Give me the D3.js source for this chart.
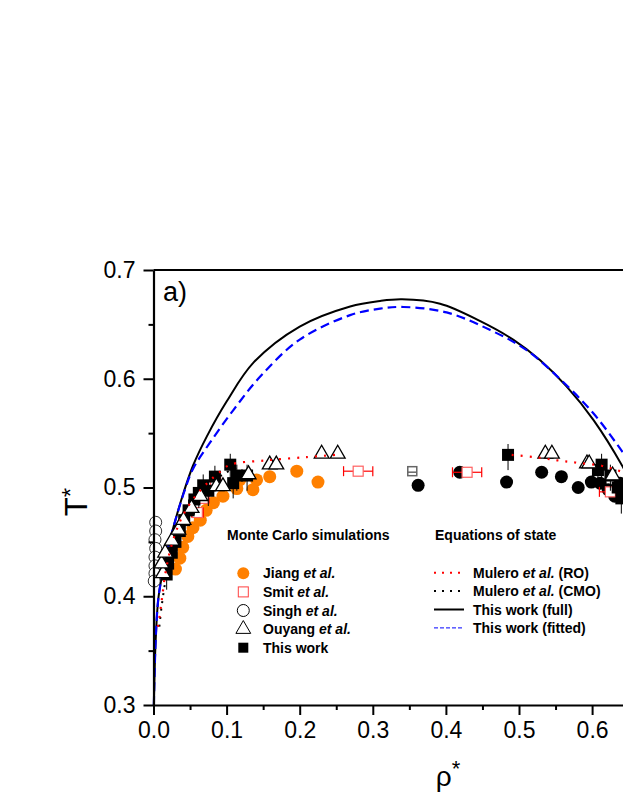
<!DOCTYPE html>
<html>
<head>
<meta charset="utf-8">
<script src="https://cdn.jsdelivr.net/npm/d3@7"></script>
<style>
  html, body { margin: 0; padding: 0; background: #fff; }
  svg { display: block; font-family: "Liberation Sans", Arial, sans-serif; }
</style>
</head>
<body>
<svg id="chart"></svg>
<script>
// axis ticks
const xTicks = [0.0, 0.1, 0.2, 0.3, 0.4, 0.5, 0.6];
const xMinor = [0.05, 0.15, 0.25, 0.35, 0.45, 0.55, 0.65];
const yTicks = [0.3, 0.4, 0.5, 0.6, 0.7];
const yMinor = [0.35, 0.45, 0.55, 0.65];

// equations of state: [rho, T]
const fullCurve = [[0.0005,0.30],[0.003,0.36],[0.007,0.40],[0.016,0.433],[0.025,0.458],[0.041,0.495],
  [0.054,0.520],[0.073,0.547],[0.100,0.579],[0.137,0.615],[0.200,0.648],[0.269,0.6665],[0.310,0.6715],
  [0.340,0.673],[0.392,0.669],[0.447,0.653],[0.492,0.636],[0.529,0.617],[0.565,0.593],[0.602,0.562],
  [0.642,0.519],[0.66,0.495]];
const fittedCurve = [[0.0005,0.30],[0.003,0.36],[0.007,0.40],[0.016,0.433],[0.025,0.458],[0.041,0.494],
  [0.054,0.517],[0.077,0.541],[0.109,0.571],[0.146,0.602],[0.200,0.636],[0.269,0.6585],[0.310,0.6645],
  [0.342,0.666],[0.401,0.661],[0.460,0.645],[0.511,0.626],[0.565,0.594],[0.602,0.568],[0.636,0.538],[0.66,0.515]];
const roLeft = [[0.006,0.372],[0.008,0.38],[0.010,0.39],[0.012,0.40],[0.016,0.42],[0.022,0.44],[0.03,0.458],
  [0.04,0.474],[0.055,0.49],[0.075,0.505],[0.092,0.515],[0.105,0.521],[0.155,0.525],[0.21,0.528],[0.25,0.53]];
const roRight = [[0.49,0.53],[0.52,0.528],[0.552,0.525],[0.577,0.523],[0.613,0.52],[0.634,0.516],[0.66,0.51]];
const cmoLeft = [[0.008,0.372],[0.011,0.39],[0.018,0.42],[0.032,0.458],[0.058,0.49],[0.095,0.512],[0.12,0.52]];

// Monte Carlo simulations: [rho, T] (+ error)
const jiang = [[0.03,0.425],[0.036,0.435],[0.04,0.445],[0.047,0.455],[0.054,0.463],[0.064,0.47],[0.072,0.479],
  [0.082,0.486],[0.095,0.492],[0.114,0.499],[0.118,0.507],[0.136,0.498],[0.141,0.507],[0.159,0.51],
  [0.196,0.515],[0.225,0.505]];
const blackCircles = [[0.362,0.502],[0.483,0.505],[0.531,0.514],[0.558,0.51],[0.419,0.514],[0.581,0.50],
  [0.599,0.505],[0.611,0.504],[0.622,0.498],[0.631,0.492],[0.638,0.504]];
const smit = [[0.06,0.477,0.008],[0.068,0.49,0.008],[0.085,0.505,0.006],[0.28,0.515,0.02],
  [0.429,0.514,0.02],[0.625,0.496,0.015]];
const smitGrey = [[0.354,0.515]];
const singh = [[0.003,0.468],[0.003,0.46],[0.002,0.452],[0.003,0.444],[0.002,0.436],[0.002,0.428],
  [0.002,0.421],[0.001,0.414]];
const ouyang = [[0.013,0.421],[0.011,0.430],[0.016,0.440],[0.025,0.451],[0.034,0.461],[0.041,0.470],
  [0.052,0.481],[0.064,0.492],[0.086,0.501],[0.095,0.501],[0.130,0.512],[0.159,0.521],[0.168,0.521],
  [0.230,0.531],[0.252,0.531],[0.536,0.531],[0.545,0.531],[0.593,0.522],[0.596,0.522],[0.628,0.511]];
const thisWork = [[0.018,0.42],[0.02,0.43],[0.025,0.44],[0.03,0.45],[0.036,0.46],[0.042,0.47],[0.048,0.479],
  [0.056,0.489],[0.062,0.495],[0.068,0.502],[0.075,0.497],[0.084,0.51],[0.105,0.521],[0.109,0.504],
  [0.114,0.511],[0.128,0.511],[0.485,0.53],[0.608,0.516],[0.613,0.521],[0.625,0.511],[0.635,0.50],[0.64,0.49]];

const mcLegend = [
  {sym: 'orange', name: 'Jiang'}, {sym: 'smit', name: 'Smit'}, {sym: 'singh', name: 'Singh'},
  {sym: 'tri', name: 'Ouyang'}, {sym: 'sq', name: 'This work'}
];
const eosLegend = [
  {pre: 'Mulero ', it: 'et al.', post: ' (RO)', color: '#ff0000', dash: '2,6', w: 2},
  {pre: 'Mulero ', it: 'et al.', post: ' (CMO)', color: '#000', dash: '2,6', w: 2},
  {pre: 'This work (full)', it: '', post: '', color: '#000', dash: null, w: 2},
  {pre: 'This work (fitted)', it: '', post: '', color: '#0000ff', dash: '4,2', w: 1}
];

var width = 623, height = 806;
var svg = d3.select('#chart').attr('width', width).attr('height', height);

var x = d3.scaleLinear().domain([0, 0.7]).range([153.5, 665.2]);
var y = d3.scaleLinear().domain([0.3, 0.7]).range([705, 270]);

var plot = svg.append('g');

var line = d3.line().x(d => x(d[0])).y(d => y(d[1])).curve(d3.curveCatmullRom.alpha(0.5));

// curves
plot.append('path').attr('d', line(fullCurve))
  .attr('fill', 'none').attr('stroke', '#000').attr('stroke-width', 2);
plot.append('path').attr('d', line(fittedCurve))
  .attr('fill', 'none').attr('stroke', '#0000ff').attr('stroke-width', 2.2).attr('stroke-dasharray', '9,5');
plot.append('path').attr('d', line(cmoLeft))
  .attr('fill', 'none').attr('stroke', '#000').attr('stroke-width', 2).attr('stroke-dasharray', '2,6');

// Jiang
plot.selectAll('.jiang').data(jiang).enter().append('circle')
  .attr('cx', d => x(d[0])).attr('cy', d => y(d[1])).attr('r', 6.5).attr('fill', '#ff8000');
plot.selectAll('.bc').data(blackCircles).enter().append('circle')
  .attr('cx', d => x(d[0])).attr('cy', d => y(d[1])).attr('r', 6.5).attr('fill', '#000');

// Smit with error bars
var sg = plot.selectAll('.smit').data(smit).enter().append('g').attr('stroke', '#ff0000').attr('fill', 'none');
sg.append('line').attr('x1', d => x(d[0] - d[2])).attr('x2', d => x(d[0] + d[2]))
  .attr('y1', d => y(d[1])).attr('y2', d => y(d[1])).attr('stroke-width', 1.2);
sg.append('line').attr('x1', d => x(d[0] - d[2])).attr('x2', d => x(d[0] - d[2]))
  .attr('y1', d => y(d[1]) - 5).attr('y2', d => y(d[1]) + 5).attr('stroke-width', 1.2);
sg.append('line').attr('x1', d => x(d[0] + d[2])).attr('x2', d => x(d[0] + d[2]))
  .attr('y1', d => y(d[1]) - 5).attr('y2', d => y(d[1]) + 5).attr('stroke-width', 1.2);
sg.append('rect').attr('x', d => x(d[0]) - 5).attr('y', d => y(d[1]) - 5)
  .attr('width', 10).attr('height', 10).attr('fill', '#fff').attr('stroke', '#ff6060').attr('stroke-width', 1.2);
var gg = plot.selectAll('.sg').data(smitGrey).enter().append('g');
gg.append('rect').attr('x', d => x(d[0]) - 4.5).attr('y', d => y(d[1]) - 4.5)
  .attr('width', 9).attr('height', 9).attr('fill', '#fff').attr('stroke', '#666').attr('stroke-width', 1.5);
gg.append('line').attr('x1', d => x(d[0]) - 4.5).attr('x2', d => x(d[0]) + 4.5)
  .attr('y1', d => y(d[1]) + 1).attr('y2', d => y(d[1]) + 1).attr('stroke', '#666').attr('stroke-width', 1.5);

// Singh
plot.selectAll('.singh').data(singh).enter().append('circle')
  .attr('cx', d => x(d[0])).attr('cy', d => y(d[1])).attr('r', 6)
  .attr('fill', '#fff').attr('stroke', '#000').attr('stroke-width', 0.8);

// This work with error bars
plot.selectAll('.twe').data(thisWork).enter().append('line')
  .attr('x1', d => x(d[0])).attr('x2', d => x(d[0]))
  .attr('y1', d => y(d[1] + 0.01)).attr('y2', d => y(d[1] - 0.014))
  .attr('stroke', '#000').attr('stroke-width', 1);
plot.selectAll('.tw').data(thisWork).enter().append('rect')
  .attr('x', d => x(d[0]) - 6).attr('y', d => y(d[1]) - 6)
  .attr('width', 12).attr('height', 12).attr('fill', '#000');

// Ouyang
var tri = d3.symbol().type(d3.symbolTriangle).size(95);
plot.selectAll('.ou').data(ouyang).enter().append('path')
  .attr('d', tri).attr('transform', d => `translate(${x(d[0])},${y(d[1])})`)
  .attr('fill', '#fff').attr('stroke', '#000').attr('stroke-width', 1.3);

// RO dotted on top
[roLeft, roRight].forEach(seg => {
  plot.append('path').attr('d', line(seg))
    .attr('fill', 'none').attr('stroke', '#ff0000').attr('stroke-width', 2.2)
    .attr('stroke-dasharray', '2,7');
});

// axes
var xAxis = d3.axisBottom(x).tickValues(xTicks).tickFormat(d3.format('.1f'))
  .tickSize(10).tickSizeOuter(0).tickPadding(5);
var gx = svg.append('g').attr('transform', 'translate(0,705)').call(xAxis);
gx.selectAll('.tick text').attr('font-size', 23).attr('dy', '0.78em').attr('fill', '#000');
gx.selectAll('.tick line').attr('stroke-width', 2);
gx.select('.domain').attr('stroke-width', 2.2);
svg.append('g').attr('transform', 'translate(0,705)')
  .call(d3.axisBottom(x).tickValues(xMinor).tickSize(5).tickFormat('').tickSizeOuter(0))
  .call(g => g.select('.domain').remove())
  .selectAll('line').attr('stroke-width', 2);

var yAxis = d3.axisLeft(y).tickValues(yTicks).tickFormat(d3.format('.1f'))
  .tickSize(10).tickSizeOuter(0).tickPadding(8);
var gy = svg.append('g').attr('transform', 'translate(153.5,0)').call(yAxis);
gy.selectAll('.tick text').attr('font-size', 23).attr('fill', '#000');
gy.selectAll('.tick line').attr('stroke-width', 2);
gy.select('.domain').attr('stroke-width', 2.2);
svg.append('g').attr('transform', 'translate(153.5,0)')
  .call(d3.axisLeft(y).tickValues(yMinor).tickSize(5).tickFormat('').tickSizeOuter(0))
  .call(g => g.select('.domain').remove())
  .selectAll('line').attr('stroke-width', 2);

// top & right frame
svg.append('line').attr('x1', x(0)).attr('x2', x(0.7)).attr('y1', y(0.7)).attr('y2', y(0.7))
  .attr('stroke', '#000').attr('stroke-width', 2.2);
svg.append('line').attr('x1', x(0.7)).attr('x2', x(0.7)).attr('y1', y(0.7)).attr('y2', y(0.3))
  .attr('stroke', '#000').attr('stroke-width', 2.2);

// labels
svg.append('text').attr('x', 163).attr('y', 301).attr('font-size', 27).text('a)');
svg.append('text').attr('x', 448).attr('y', 786).attr('text-anchor', 'middle').attr('font-size', 28)
  .html('ρ<tspan dy="-10" font-size="22">*</tspan>');
svg.append('text').attr('transform', 'translate(87,502) rotate(-90)').attr('text-anchor', 'middle')
  .attr('font-size', 31).html('T<tspan dy="-8" font-size="24">*</tspan>');

// legend: Monte Carlo
var lg = svg.append('g').attr('font-size', 14).attr('font-weight', 'bold');
lg.append('text').attr('x', 227).attr('y', 540).text('Monte Carlo simulations');
mcLegend.forEach((d, i) => {
  var cy = 573.3 + i * 18.6, cx = 243.3;
  if (d.sym == 'orange') lg.append('circle').attr('cx', cx).attr('cy', cy).attr('r', 6).attr('fill', '#ff8000');
  if (d.sym == 'smit') lg.append('rect').attr('x', cx - 5).attr('y', cy - 5).attr('width', 10).attr('height', 10)
    .attr('fill', 'none').attr('stroke', '#ff4040').attr('stroke-width', 1);
  if (d.sym == 'singh') lg.append('circle').attr('cx', cx).attr('cy', cy).attr('r', 6)
    .attr('fill', 'none').attr('stroke', '#000').attr('stroke-width', 1);
  if (d.sym == 'tri') lg.append('path').attr('d', tri).attr('transform', `translate(${cx},${cy})`)
    .attr('fill', '#fff').attr('stroke', '#000').attr('stroke-width', 1);
  if (d.sym == 'sq') lg.append('rect').attr('x', cx - 5).attr('y', cy - 5).attr('width', 10).attr('height', 10).attr('fill', '#000');
  var t = lg.append('text').attr('x', 263).attr('y', cy + 5);
  t.append('tspan').text(d.name);
  if (d.name != 'This work') t.append('tspan').attr('font-style', 'italic').text(' et al.');
});

// legend: equations of state
var le = svg.append('g').attr('font-size', 14).attr('font-weight', 'bold');
le.append('text').attr('x', 435).attr('y', 540).text('Equations of state');
eosLegend.forEach((d, i) => {
  var cy = 572.7 + i * 18.4;
  le.append('line').attr('x1', 434).attr('x2', 464).attr('y1', cy).attr('y2', cy)
    .attr('stroke', d.color).attr('stroke-width', d.w).attr('stroke-dasharray', d.dash);
  var t = le.append('text').attr('x', 473).attr('y', cy + 5);
  t.append('tspan').text(d.pre);
  if (d.it) t.append('tspan').attr('font-style', 'italic').text(d.it);
  if (d.post) t.append('tspan').text(d.post);
});
</script>
</body>
</html>
